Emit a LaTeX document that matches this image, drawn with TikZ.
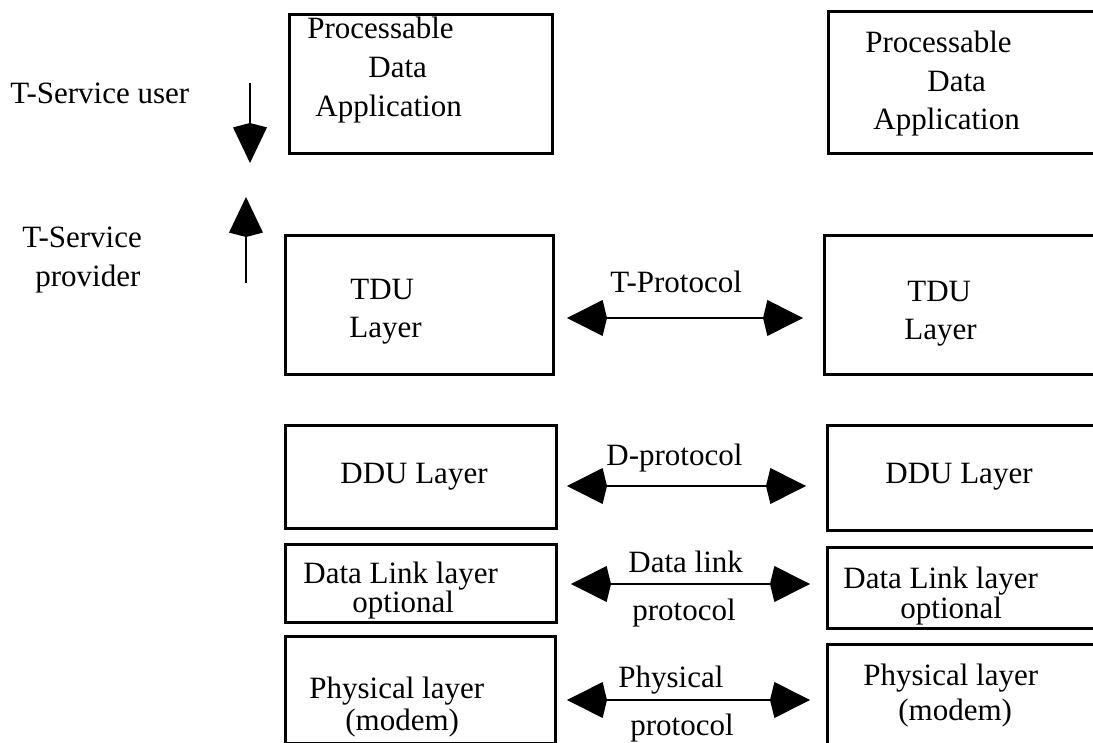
\documentclass[tikz,border=0pt]{standalone}
\usepackage{fontspec}
\setmainfont{Liberation Serif}
\usetikzlibrary{arrows.meta,positioning}
\tikzset{
  layer/.style={draw,line width=1.3pt,inner sep=0pt,anchor=north west},
  txt/.style={anchor=base west,inner sep=0pt},
  kit/.style={line width=1.4pt,>={Kite[length=20pt,width=18pt,inset=2.2pt]},<->},
  vkit/.style={line width=1.3pt,-{Kite[length=20pt,width=17pt,inset=2.2pt]}},
}

\begin{document}
\begin{tikzpicture}[x=0.5pt,y=-0.5pt,font=\fontsize{15.5pt}{19pt}\selectfont]
  \useasboundingbox (0,0) rectangle (1093,743);
  % left stack
  \node[layer,minimum width=131.5pt,minimum height=69.5pt] (pdaL) at (288,13) {};
  \node[layer,minimum width=134pt,minimum height=69.5pt] (tduL) at (284,234) {};
  \node[layer,minimum width=135.5pt,minimum height=51.5pt] (dduL) at (284,424) {};
  \node[layer,minimum width=135.5pt,minimum height=39pt] (dlL) at (284,543) {};
  \node[layer,minimum width=135pt,minimum height=53.5pt] (phyL) at (284,635) {};
  % right stack
  \node[layer,minimum width=136.5pt,minimum height=71pt] (pdaR) at (827,10) {};
  \node[layer,minimum width=138.5pt,minimum height=69.5pt] (tduR) at (823,234) {};
  \node[layer,minimum width=137pt,minimum height=52.5pt] (dduR) at (826,424) {};
  \node[layer,minimum width=137pt,minimum height=40.5pt] (dlR) at (826,546) {};
  \node[layer,minimum width=137pt,minimum height=53.5pt] (phyR) at (826,643) {};

  \node[txt] (pdaL1) at (307,39) {Processable};
  \node[txt] (pdaL2) at (368,78) {Data};
  \node[txt] (pdaL3) at (315,117) {Application};
  \node[txt] (pdaR1) at (865,53) {Processable};
  \node[txt] (pdaR2) at (927,92) {Data};
  \node[txt] (pdaR3) at (873,130) {Application};
  \node[txt] (tduL1) at (350,300) {TDU};
  \node[txt] (tduL2) at (349,338) {Layer};
  \node[txt] (tduR1) at (907,302) {TDU};
  \node[txt] (tduR2) at (904,340) {Layer};
  \node[txt] (dduL1) at (340,483) {DDU Layer};
  \node[txt] (dduR1) at (885,483) {DDU Layer};
  \node[txt] (dlL1) at (303,583) {Data Link layer};
  \node[txt] (dlL2) at (352,612) {optional};
  \node[txt] (dlR1) at (843,588) {Data Link layer};
  \node[txt] (dlR2) at (900,618) {optional};
  \node[txt] (phyL1) at (309,698) {Physical layer};
  \node[txt] (phyL2) at (345,730) {(modem)};
  \node[txt] (phyR1) at (863,685) {Physical layer};
  \node[txt] (phyR2) at (898,720) {(modem)};

  % service boundary
  \node[txt] (user) at (10,104) {T-Service user};
  \node[txt] (prov1) at (22,248) {T-Service};
  \node[txt] (prov2) at (35,287) {provider};
  \coordinate (uA) at (250,83);  \coordinate (uB) at (250,163);
  \coordinate (pA) at (246,283); \coordinate (pB) at (246,197);
  \draw[vkit] (uA) -- (uB);
  \draw[vkit] (pA) -- (pB);

  % peer protocols
  \coordinate (tA) at (567,318); \coordinate (tB) at (803,318);
  \coordinate (dA) at (567,486); \coordinate (dB) at (806,486);
  \coordinate (lA) at (571,584); \coordinate (lB) at (810,584);
  \coordinate (hA) at (567,700); \coordinate (hB) at (810,700);
  \draw[kit] (tA) -- (tB);
  \draw[kit] (dA) -- (dB);
  \draw[kit] (lA) -- (lB);
  \draw[kit] (hA) -- (hB);
  \node[txt] (tprot) at (610,293) {T-Protocol};
  \node[txt] (dprot) at (606,466) {D-protocol};
  \node[txt] (lprot1) at (628,572) {Data link};
  \node[txt] (lprot2) at (632,620) {protocol};
  \node[txt] (hprot1) at (618,687) {Physical};
  \node[txt] (hprot2) at (630,735) {protocol};
\end{tikzpicture}
\end{document}
